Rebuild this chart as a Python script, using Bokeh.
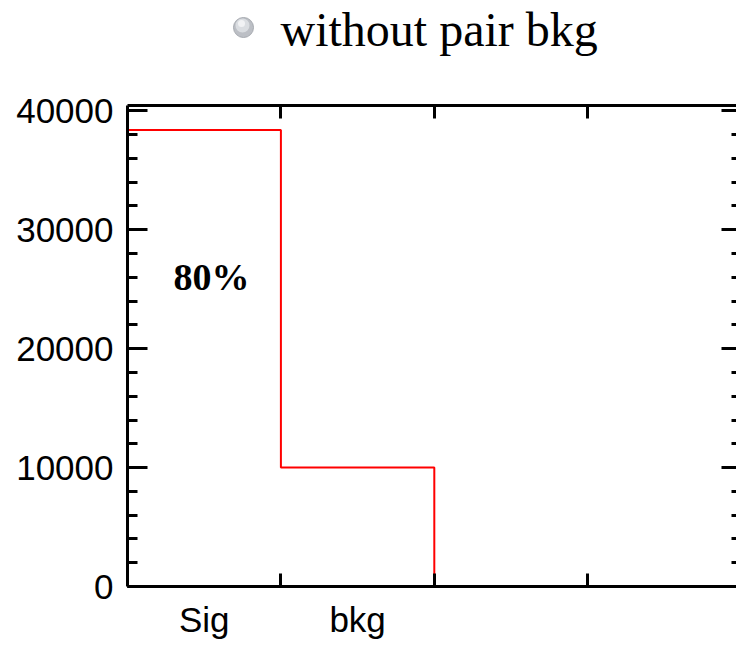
import numpy as np
from bokeh.plotting import figure
from bokeh.layouts import column
from bokeh.models import (Range1d, LinearAxis, FixedTicker, SingleIntervalTicker,
                          BasicTickFormatter, Label)
from bokeh.embed import file_html
from bokeh.resources import INLINE

# ---- data ----
categories = ["Sig", "bkg", "", ""]
counts = [38400, 10000, 0, 0]
edges = [0, 1, 2, 3, 4]
y_ticks = [0, 10000, 20000, 30000, 40000]
title_text = "without pair bkg"
note_text = "80%"

# step outline of the histogram
xs = np.repeat(np.array(edges, dtype=float), 2)
ys = np.concatenate([[0.0], np.repeat(np.array(counts, dtype=float), 2), [0.0]])

W = 736
HEAD_H = 90
LEFT = 127

# ---- header (legend-like title with a bullet) ----
head = figure(width=W, height=HEAD_H, output_backend="svg", toolbar_location=None,
              x_range=Range1d(LEFT, W), y_range=Range1d(0, HEAD_H),
              x_axis_location=None, y_axis_location=None,
              min_border_left=LEFT, min_border_right=0, min_border_top=0,
              min_border_bottom=0)
head.outline_line_color = None
head.xgrid.visible = False
head.ygrid.visible = False
head.scatter([243], [HEAD_H - 27], size=20, fill_color="#bcbfc5", line_color="#a6aab0",
             line_width=1)
head.scatter([242], [HEAD_H - 25], size=14, fill_color="#dadde1", line_color=None)
head.scatter([241], [HEAD_H - 23], size=7, fill_color="#f1f2f4", line_color=None)
head.add_layout(Label(x=280, y=HEAD_H - 29, text=title_text,
                      text_font="Liberation Serif", text_font_size="48px",
                      text_color="black", text_align="left",
                      text_baseline="alphabetic"))

# ---- main histogram ----
p = figure(width=W, height=551, output_backend="svg", toolbar_location=None,
           x_range=Range1d(0, 3.97), y_range=Range1d(0, 40450),
           x_axis_location=None, y_axis_location=None,
           min_border_left=LEFT, min_border_right=0, min_border_top=105 - HEAD_H,
           min_border_bottom=40)
p.outline_line_color = None
p.xgrid.visible = False
p.ygrid.visible = False

p.line(xs, ys, line_color="#ff0000", line_width=2)

tick_font = "Liberation Sans"

# left axis
yl = LinearAxis(ticker=SingleIntervalTicker(interval=10000, num_minor_ticks=5),
                formatter=BasicTickFormatter(use_scientific=False))
yl.axis_line_width = 3
yl.major_tick_in = 20
yl.major_tick_out = 0
yl.minor_tick_in = 10
yl.minor_tick_out = 0
yl.major_tick_line_width = 3
yl.minor_tick_line_width = 3
yl.major_label_text_font = tick_font
yl.major_label_text_font_size = "35px"
yl.major_label_text_color = "black"
yl.major_label_standoff = 14
p.add_layout(yl, "left")

# right axis (ticks only)
yr = LinearAxis(ticker=SingleIntervalTicker(interval=10000, num_minor_ticks=5))
yr.major_label_overrides = {t: "" for t in y_ticks}
yr.axis_line_color = None
yr.major_tick_in = 15
yr.major_tick_out = 0
yr.minor_tick_in = 5
yr.minor_tick_out = 0
yr.major_tick_line_width = 3
yr.minor_tick_line_width = 3
yr.major_label_standoff = 0
p.add_layout(yr, "right")

# bottom axis: labels at bin centres, ticks at bin edges
centers = [e + 0.5 for e in edges[:2]]
xb = LinearAxis(ticker=FixedTicker(ticks=centers, minor_ticks=edges[1:-1]))
xb.major_label_overrides = {c: categories[i] for i, c in enumerate(centers)}
xb.axis_line_width = 3
xb.major_tick_in = 0
xb.major_tick_out = 0
xb.minor_tick_in = 13
xb.minor_tick_out = 0
xb.minor_tick_line_width = 3
xb.major_label_text_font = tick_font
xb.major_label_text_font_size = "35px"
xb.major_label_text_color = "black"
xb.major_label_standoff = 13
p.add_layout(xb, "below")

# top axis (ticks only)
xt = LinearAxis(ticker=FixedTicker(ticks=edges[1:-1]))
xt.major_label_overrides = {t: "" for t in edges[1:-1]}
xt.axis_line_width = 3
xt.major_tick_in = 13
xt.major_tick_out = 0
xt.minor_tick_line_color = None
xt.major_tick_line_width = 3
xt.major_label_standoff = 0
p.add_layout(xt, "above")

p.add_layout(Label(x=0.30, y=26000, text=note_text,
                   text_font="Liberation Serif", text_font_style="bold",
                   text_font_size="38px", text_color="black",
                   text_align="left", text_baseline="alphabetic"))

layout = column(head, p, spacing=0)
open("out.html", "w").write(file_html(layout, INLINE))
